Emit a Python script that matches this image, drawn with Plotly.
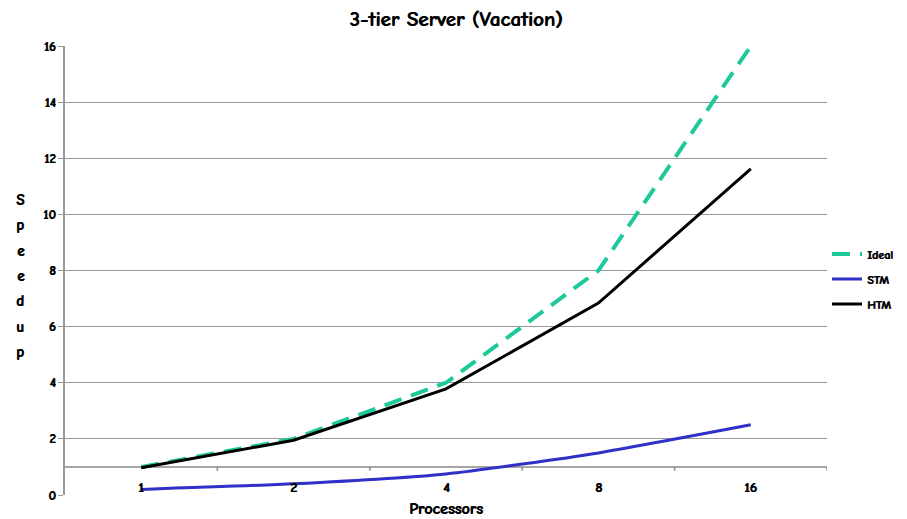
import plotly.graph_objects as go

categories = ["1", "2", "4", "8", "16"]
ideal = [1, 2, 4, 8, 16]
stm = [0.2, 0.4, 0.75, 1.5, 2.5]
htm = [0.97, 1.95, 3.78, 6.84, 11.62]
y_ticks = [0, 2, 4, 6, 8, 10, 12, 14, 16]
y_title = "Speedup"

FONT = "Comic Sans MS, Comic Neue, Lato, sans-serif"
SH = "0.7px 0 0 black"
xs = list(range(len(categories)))

W, H = 899, 511
L, R, T, B = 57, 80, 38, 24
PW, PH = W - L - R, H - T - B

fig = go.Figure()
fig.add_trace(go.Scatter(x=xs, y=ideal, name="Ideal", mode="lines", legendgroup="a",
                         line=dict(color="#1DC99A", width=4, dash="18px,10px")))
fig.add_trace(go.Scatter(x=xs, y=stm, name="STM", mode="lines", legendgroup="b",
                         line=dict(color="#3030C8", width=3, shape="spline", smoothing=0.6)))
fig.add_trace(go.Scatter(x=xs, y=htm, name="HTM", mode="lines", legendgroup="c",
                         line=dict(color="#000000", width=3)))

# category axis drawn crossing at y=1
fig.add_shape(type="line", xref="x", yref="y", x0=-0.5, x1=len(categories) - 0.5, y0=1, y1=1,
              line=dict(color="#888888", width=1.5), layer="below")
for i in range(len(categories)):
    fig.add_shape(type="line", xref="x", yref="y", x0=i + 0.5, x1=i + 0.5, y0=1, y1=0.86,
                  line=dict(color="#888888", width=1.5), layer="below")
    fig.add_annotation(x=i, y=1, xref="x", yref="y", text=categories[i],
                       showarrow=False, yanchor="top", yshift=-10,
                       font=dict(family=FONT, size=14, color="black", weight="bold", shadow=SH))

fig.add_annotation(x=0.5, y=0, xref="paper", yref="paper", text="Processors",
                   showarrow=False, yanchor="top", yshift=-3,
                   font=dict(family=FONT, size=16, color="black", weight="bold", shadow=SH))
# vertical stacked y-axis title letters
for k, ch in enumerate(y_title):
    fig.add_annotation(x=(12 - L) / PW, y=(PH + T - (192 + 25.3 * k)) / PH,
                       xref="paper", yref="paper", text=ch,
                       showarrow=False, xanchor="center", yanchor="middle",
                       font=dict(family=FONT, size=15, color="black", weight="bold", shadow=SH))

fig.update_layout(
    width=W, height=H,
    margin=dict(l=L, r=R, t=T, b=B, autoexpand=False),
    paper_bgcolor="white", plot_bgcolor="white",
    title=dict(text="3-tier Server (Vacation)", x=448 / W, xanchor="center",
               y=1 - 11 / H, yanchor="middle", xref="container", yref="container",
               font=dict(family=FONT, size=21, color="black", weight="bold", shadow=SH)),
    xaxis=dict(range=[-0.5, len(categories) - 0.5], showticklabels=False, showgrid=False,
               zeroline=False, showline=False, ticks=""),
    yaxis=dict(range=[0, 16], tickvals=y_ticks, showgrid=True, gridcolor="#999999", gridwidth=1,
               zeroline=False, showline=True, linecolor="#999999", linewidth=1.5,
               ticks="outside", ticklen=5, tickcolor="#999999",
               tickfont=dict(family=FONT, size=13, color="black", weight="bold", shadow=SH)),
    legend=dict(x=1.0, xanchor="left", y=0.481, yanchor="middle", bgcolor="rgba(0,0,0,0)",
                font=dict(family=FONT, size=12, color="black", weight="bold", shadow=SH),
                tracegroupgap=6, itemwidth=30),
    showlegend=True,
)
fig.write_html("out.html")
